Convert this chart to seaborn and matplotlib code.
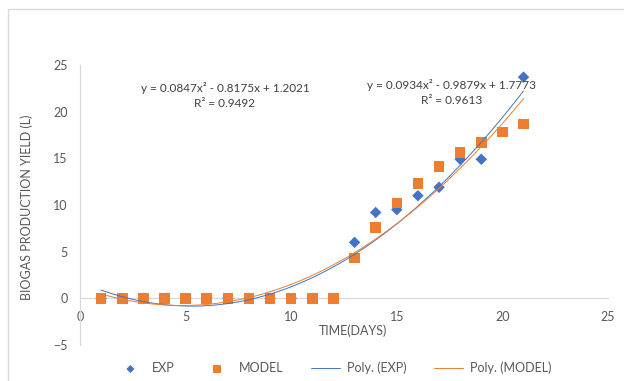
import numpy as np
import pandas as pd
import matplotlib
matplotlib.use("Agg")
import matplotlib.pyplot as plt
import seaborn as sns
from matplotlib.patches import Rectangle

# Measured daily biogas yield (L) and model prediction
days = list(range(1, 22))
exp_days = [1, 2, 3, 4, 5, 6, 7, 8, 9, 10, 11, 12, 13, 14, 15, 16, 17, 18, 19, 21]
exp_yield = [0, 0, 0, 0, 0, 0, 0, 0, 0, 0, 0, 0, 6.0, 9.2, 9.5, 11.0, 11.9, 14.9, 14.9, 23.7]
model_yield = [0, 0, 0, 0, 0, 0, 0, 0, 0, 0, 0, 0, 4.3, 7.6, 10.2, 12.3, 14.1, 15.6, 16.7, 17.8, 18.7]

# Second-order polynomial trendlines (a, b, c) and their R²
exp_coef = [0.0934, -0.9879, 1.7773]
exp_r2 = 0.9613
model_coef = [0.0847, -0.8175, 1.2021]
model_r2 = 0.9492

x_ticks = [0, 5, 10, 15, 20, 25]
y_ticks = [-5, 0, 5, 10, 15, 20, 25]

BLUE = "#4472C4"
ORANGE = "#ED7D31"
GREY = "#595959"

sns.set_theme(style="white")
plt.rcParams["font.family"] = ["Lato", "DejaVu Sans"]

fig = plt.figure(figsize=(6.24, 3.81), dpi=100)
ax = fig.add_axes([80 / 624, 1 - 345 / 381, 528 / 624, 280 / 381])

# chart frame
fig.patches.append(Rectangle((8 / 624, -0.1), 1.2, 1 - 9 / 381 + 0.1,
                             transform=fig.transFigure, fill=False,
                             edgecolor="#D9D9D9", linewidth=1.0))

exp_df = pd.DataFrame({"day": exp_days, "yield": exp_yield})
model_df = pd.DataFrame({"day": days, "yield": model_yield})

xs = np.linspace(days[0], days[-1], 200)
trend_df = pd.DataFrame({
    "day": np.concatenate([xs, xs]),
    "yield": np.concatenate([np.polyval(exp_coef, xs), np.polyval(model_coef, xs)]),
    "series": ["Poly. (EXP)"] * len(xs) + ["Poly. (MODEL)"] * len(xs),
})

sns.scatterplot(data=exp_df, x="day", y="yield", ax=ax, marker="D", s=34,
                color=BLUE, edgecolor="none", label="EXP", zorder=3)
sns.scatterplot(data=model_df, x="day", y="yield", ax=ax, marker="s", s=58,
                color=ORANGE, edgecolor="none", label="MODEL", zorder=4)
sns.lineplot(data=trend_df, x="day", y="yield", hue="series",
             palette=[BLUE, ORANGE], linewidth=0.7, ax=ax, zorder=5)

ax.set_xlim(0, 25)
ax.set_ylim(-5, 25)
ax.set_xticks(x_ticks)
ax.set_yticks(y_ticks)
ax.tick_params(axis="both", length=0, labelsize=9, labelcolor=GREY)
ax.tick_params(axis="x", pad=9)
ax.tick_params(axis="y", pad=9)

for side in ["top", "right"]:
    ax.spines[side].set_visible(False)
ax.spines["bottom"].set_position(("data", 0))
ax.spines["bottom"].set_color("#D9D9D9")
ax.spines["left"].set_color("#D9D9D9")
ax.spines["bottom"].set_linewidth(0.9)
ax.spines["left"].set_linewidth(0.9)

ax.set_xlabel("TIME(DAYS)", fontsize=9, color=GREY, va="center")
ax.xaxis.set_label_coords((353 - 80) / 528, (345 - 331) / 280)
ax.set_ylabel("BIOGAS PRODUCTION YIELD (L)", fontsize=9, color=GREY, va="center")
ax.yaxis.set_label_coords((27 - 80) / 528, (345 - 207) / 280)


def eq_text(coef, r2):
    a, b, c = coef
    sb = "-" if b < 0 else "+"
    sc = "-" if c < 0 else "+"
    return (f"y = {a:.4f}x² {sb} {abs(b):.4f}x {sc} {abs(c):.4f}\n"
            f"R² = {r2:.4f}")


ax.text(6.86, 21.75, eq_text(model_coef, model_r2), ha="center", va="center",
        fontsize=8.5, color="#404040", linespacing=1.45)
ax.text(17.6, 22.05, eq_text(exp_coef, exp_r2), ha="center", va="center",
        fontsize=8.5, color="#404040", linespacing=1.45)

handles, labels = ax.get_legend_handles_labels()
ax.get_legend().remove()
order = ["EXP", "MODEL", "Poly. (EXP)", "Poly. (MODEL)"]
hmap = dict(zip(labels, handles))
fig.legend([hmap[k] for k in order], order, loc="center", ncol=4,
           bbox_to_anchor=(334 / 624, 1 - 368 / 381), frameon=False,
           fontsize=9, labelcolor=GREY, markerscale=0.7,
           handlelength=2.3, columnspacing=2.2, handletextpad=0.6)

fig.savefig("out.png", dpi=100)
